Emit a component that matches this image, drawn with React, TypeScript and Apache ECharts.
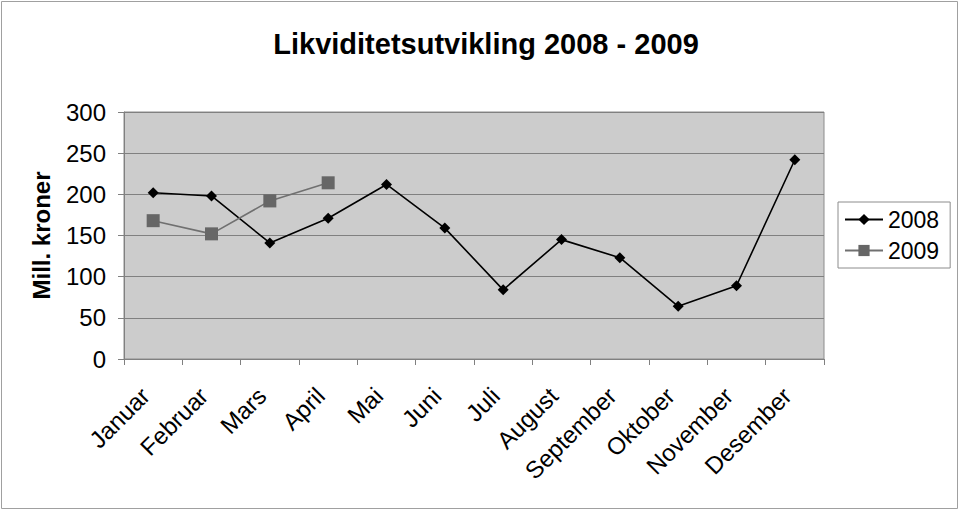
import React, { useEffect, useRef } from "react";
import * as echarts from "echarts";

const months = ["Januar", "Februar", "Mars", "April", "Mai", "Juni", "Juli", "August", "September", "Oktober", "November", "Desember"];
const values2008 = [202, 198, 141, 171, 212, 159, 84, 145, 123, 64, 89, 242];
const values2009 = [168, 152, 192, 214];
const yTicks = { min: 0, max: 300, interval: 50 };

export default function App() {
  const ref = useRef<HTMLDivElement>(null);
  useEffect(() => {
    document.body.style.margin = "0";
    const chart = echarts.init(ref.current!, null, { renderer: "svg" });
    const font = "Liberation Sans, Arial, sans-serif";
    chart.setOption({
      animation: false,
      textStyle: { fontFamily: font },
      title: {
        text: "Likviditetsutvikling 2008 - 2009",
        left: 481,
        textAlign: "center",
        top: 24,
        textStyle: { fontFamily: font, fontSize: 29, fontWeight: "bold", color: "#000" },
      },
      graphic: [
        {
          type: "rect",
          shape: { x: 1.5, y: 1.5, width: 956, height: 507 },
          style: { fill: "none", stroke: "#a0a0a0", lineWidth: 1 },
          silent: true,
        },
      ],
      grid: {
        left: 124,
        right: 136,
        top: 112,
        bottom: 152,
        show: true,
        backgroundColor: "#cccccc",
        borderColor: "#8c8c8c",
        borderWidth: 1,
      },
      legend: {
        orient: "vertical",
        left: 838,
        top: 202,
        borderColor: "#8c8c8c",
        borderWidth: 1,
        padding: [6, 11, 6, 6],
        itemGap: 8,
        itemWidth: 38,
        itemHeight: 14,
        textStyle: { fontFamily: font, fontSize: 23, color: "#000" },
        data: ["2008", "2009"],
      },
      xAxis: {
        type: "category",
        data: months,
        boundaryGap: true,
        axisLine: { lineStyle: { color: "#808080", width: 1 } },
        axisTick: { show: true, interval: 0, length: 6, lineStyle: { color: "#808080" } },
        axisLabel: {
          interval: 0,
          rotate: 45,
          margin: 25,
          padding: [0, 11, 0, 0],
          fontFamily: font,
          fontSize: 24,
          color: "#000",
        },
      },
      yAxis: {
        type: "value",
        min: yTicks.min,
        max: yTicks.max,
        interval: yTicks.interval,
        name: "Mill. kroner",
        nameLocation: "middle",
        nameGap: 71,
        nameTextStyle: { fontFamily: font, fontSize: 24, fontWeight: "bold", color: "#000" },
        axisLine: { show: true, lineStyle: { color: "#808080" } },
        axisTick: { show: true, length: 6, lineStyle: { color: "#808080" } },
        axisLabel: { fontFamily: font, fontSize: 24, color: "#000", margin: 18 },
        splitLine: { show: true, lineStyle: { color: "#808080", width: 1 } },
      },
      series: [
        {
          name: "2008",
          type: "line",
          data: values2008,
          symbol: "diamond",
          symbolSize: 11,
          itemStyle: { color: "#000" },
          lineStyle: { color: "#000", width: 1.6 },
        },
        {
          name: "2009",
          type: "line",
          data: values2009,
          symbol: "rect",
          symbolSize: 13,
          itemStyle: { color: "#666666" },
          lineStyle: { color: "#707070", width: 1.6 },
        },
      ],
    });
    return () => chart.dispose();
  }, []);
  return <div ref={ref} style={{ width: 960, height: 511 }} />;
}
